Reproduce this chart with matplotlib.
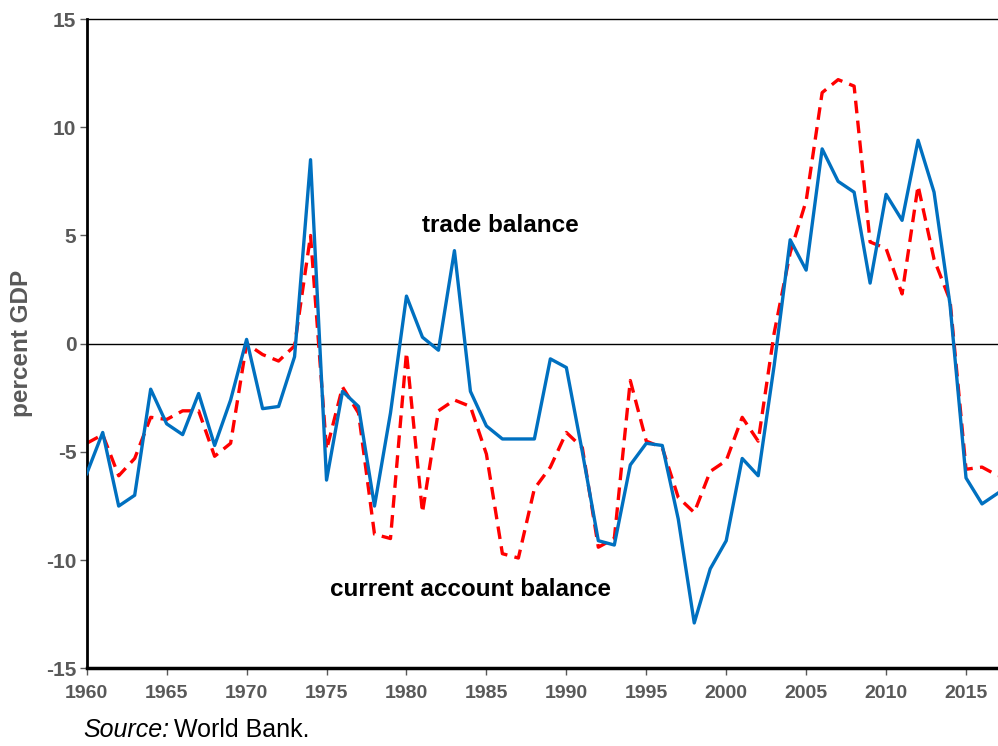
import numpy as np
import matplotlib.pyplot as plt

# years 1960-2017, percent of GDP
years = np.arange(1960, 2018)

blue_series = [
    -6.0, -4.1, -7.5, -7.0, -2.1, -3.7, -4.2, -2.3, -4.7, -2.6,
    0.2, -3.0, -2.9, -0.6, 8.5, -6.3, -2.2, -2.9, -7.5, -3.2,
    2.2, 0.3, -0.3, 4.3, -2.2, -3.8, -4.4, -4.4, -4.4, -0.7,
    -1.1, -5.0, -9.1, -9.3, -5.6, -4.6, -4.7, -8.1, -12.9, -10.4,
    -9.1, -5.3, -6.1, -1.0, 4.8, 3.4, 9.0, 7.5, 7.0, 2.8,
    6.9, 5.7, 9.4, 7.0, 1.8, -6.2, -7.4, -6.9,
]

red_series = [
    -4.6, -4.2, -6.1, -5.3, -3.4, -3.5, -3.1, -3.1, -5.2, -4.6,
    0.0, -0.5, -0.8, -0.1, 5.0, -4.9, -2.0, -3.2, -8.8, -9.0,
    -0.4, -7.8, -3.1, -2.6, -2.9, -5.1, -9.7, -9.9, -6.7, -5.7,
    -4.1, -4.8, -9.4, -9.0, -1.7, -4.5, -4.8, -7.1, -7.8, -5.9,
    -5.4, -3.4, -4.5, 0.5, 4.2, 6.6, 11.6, 12.2, 11.9, 4.7,
    4.4, 2.3, 7.3, 3.9, 2.0, -5.8, -5.7, -6.1,
]

y_ticks = [-15, -10, -5, 0, 5, 10, 15]
x_ticks = list(range(1960, 2016, 5))

plt.rcParams['font.family'] = ['Liberation Sans', 'DejaVu Sans']
plt.rcParams['axes.unicode_minus'] = False

fig = plt.figure(figsize=(9.98, 7.46), dpi=100)
ax = fig.add_axes([0.0869, 0.104, 0.9131, 0.8705])

ax.axhline(0, color='black', lw=1.0, zorder=1)
ax.plot(years, red_series, color='#FF0000', lw=2.4, dashes=(3.8, 2.2), zorder=2)
ax.plot(years, blue_series, color='#0070C0', lw=2.4, zorder=3)

ax.set_xlim(1960, 2017)
ax.set_ylim(-15, 15)
ax.set_xticks(x_ticks)
ax.set_yticks(y_ticks)

gray = '#595959'
ax.tick_params(axis='both', direction='out', colors=gray, length=5, width=1)
ax.tick_params(axis='x', labelsize=14, pad=7)
ax.tick_params(axis='y', labelsize=15, pad=2.5)
for lab in ax.get_xticklabels() + ax.get_yticklabels():
    lab.set_fontweight('bold')
    lab.set_color(gray)

ax.spines['right'].set_visible(False)
ax.spines['top'].set_linewidth(1.0)
ax.spines['left'].set_linewidth(2.0)
ax.spines['bottom'].set_linewidth(2.5)
for s in ['top', 'left', 'bottom']:
    ax.spines[s].set_color('black')

ax.set_ylabel('percent GDP', fontsize=17.5, fontweight='bold', color=gray)
ax.yaxis.set_label_coords(-0.059, 0.5)

ax.text(1985.9, 5.45, 'trade balance', fontsize=17.5, fontweight='bold', ha='center', va='center')
ax.text(1984.0, -11.35, 'current account balance', fontsize=17.5, fontweight='bold', ha='center', va='center')

# source line: italic "Source:" followed by plain text
src = fig.text(0.083, 0.006, 'Source:', fontsize=18, style='italic', ha='left', va='bottom')
fig.canvas.draw()
bb = src.get_window_extent(renderer=fig.canvas.get_renderer())
x_next = (bb.x1 + 5) / fig.bbox.width
fig.text(x_next, 0.006, 'World Bank.', fontsize=18, ha='left', va='bottom')

fig.savefig('out.png', dpi=100)
